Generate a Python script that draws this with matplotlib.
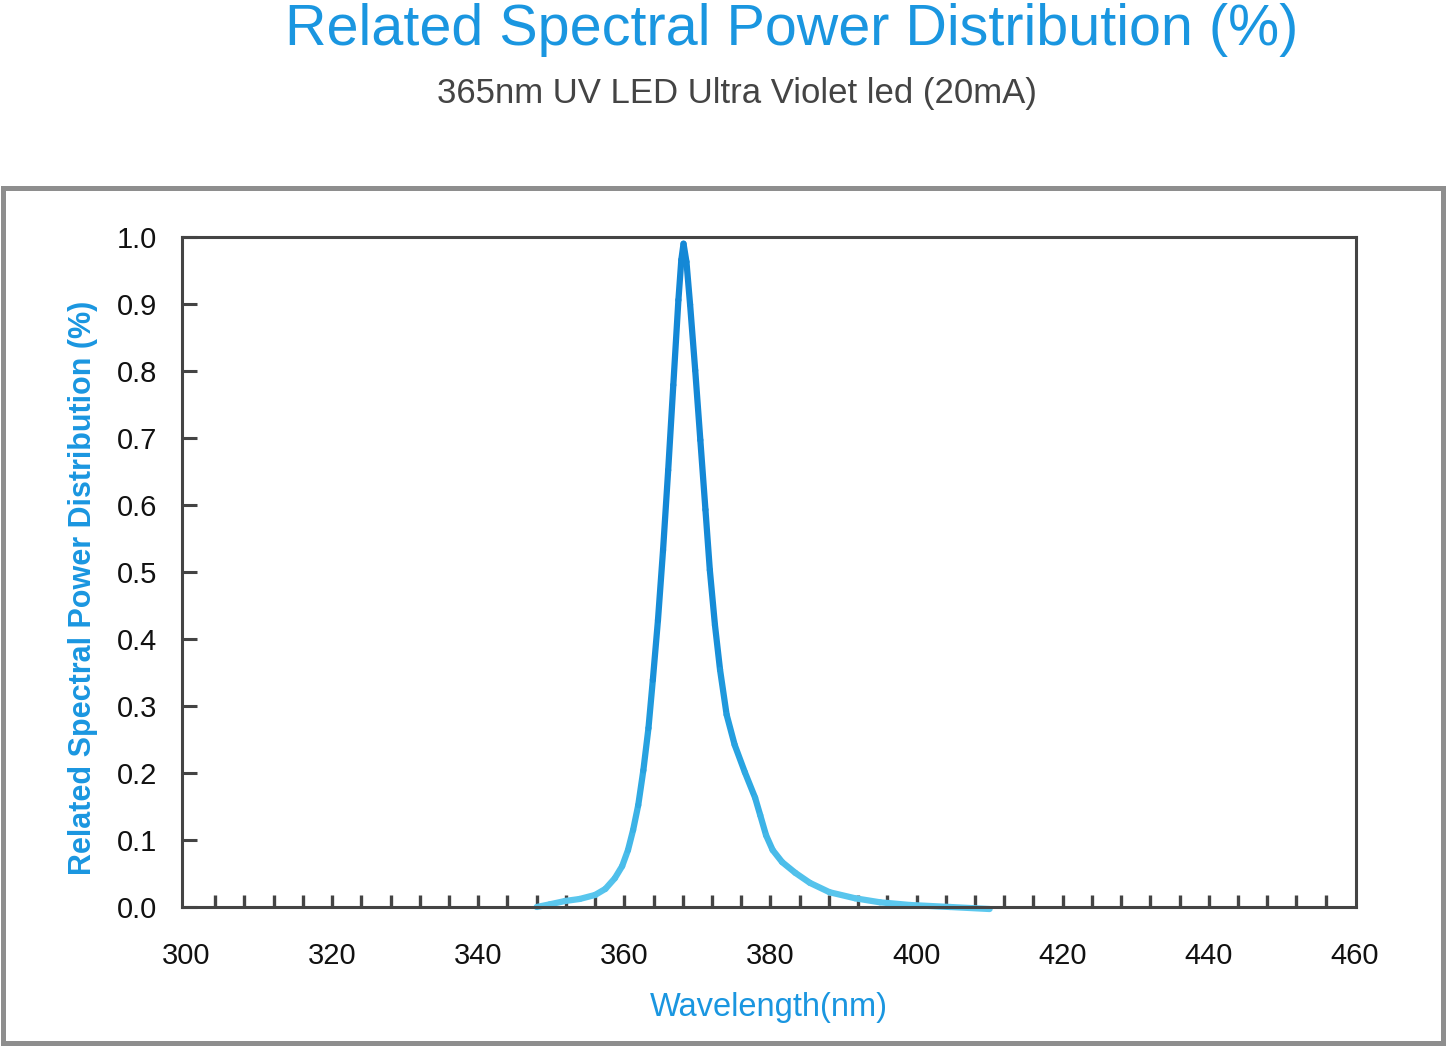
import numpy as np
import matplotlib
matplotlib.use("Agg")
import matplotlib.pyplot as plt
from matplotlib.collections import LineCollection
from matplotlib.colors import LinearSegmentedColormap
from matplotlib.patches import Rectangle
from matplotlib.ticker import FixedLocator

plt.rcParams['font.family'] = ['Liberation Sans', 'DejaVu Sans']

# Data
wavelength = [348.0, 349.8, 351.9, 353.9, 356.0, 357.4, 358.7, 359.7, 360.5, 361.2,
              361.9, 362.6, 363.3, 363.9, 364.6, 365.3, 366.0, 366.7, 367.4, 367.8,
              368.1, 368.5, 369.0, 369.7, 370.4, 371.1, 371.7, 372.4, 373.1, 374.0,
              375.1, 376.5, 377.9, 378.6, 379.4, 380.3, 381.6, 383.4, 385.4, 388.1,
              391.6, 395.0, 399.1, 404.6, 410.0]
power = [0.000, 0.004, 0.009, 0.012, 0.018, 0.027, 0.043, 0.061, 0.085, 0.115,
         0.152, 0.204, 0.267, 0.339, 0.428, 0.533, 0.652, 0.779, 0.906, 0.966,
         0.990, 0.963, 0.899, 0.801, 0.697, 0.593, 0.503, 0.421, 0.354, 0.287,
         0.242, 0.201, 0.163, 0.137, 0.107, 0.085, 0.067, 0.051, 0.036, 0.022,
         0.013, 0.007, 0.003, 0.000, -0.003]
x_tick_labels = [300, 320, 340, 360, 380, 400, 420, 440, 460]
x_minor_ticks = list(range(304, 457, 4))
y_ticks = [0.0, 0.1, 0.2, 0.3, 0.4, 0.5, 0.6, 0.7, 0.8, 0.9, 1.0]

W, H = 1447, 1048
fig = plt.figure(figsize=(W / 100, H / 100), dpi=100)
fig.patch.set_facecolor('white')

# outer frame
fig.patches.append(Rectangle((3 / W, 1 - 1043 / H), 1440 / W, 855 / H,
                             transform=fig.transFigure, fill=False,
                             edgecolor='#8e8e8e', linewidth=3.6))

ax = fig.add_axes([182 / W, 1 - 907 / H, (1356 - 182) / W, (907 - 237) / H])
ax.set_xlim(299.45, 460.15)
ax.set_ylim(0, 1.0)

for s in ax.spines.values():
    s.set_color('#444444')
    s.set_linewidth(2.2)

# line with vertical colour gradient
x = np.array(wavelength)
y = np.array(power)
pts = np.column_stack([x, y]).reshape(-1, 1, 2)
segs = np.concatenate([pts[:-1], pts[1:]], axis=1)
cmap = LinearSegmentedColormap.from_list('uv', ['#5cc8ee', '#2aa6e2', '#178ed8', '#1488d6'])
lc = LineCollection(segs, cmap=cmap, linewidths=4.5, capstyle='round', joinstyle='round')
lc.set_array((y[:-1] + y[1:]) / 2)
lc.set_clim(0, 0.6)
lc.set_clip_on(False)
ax.add_collection(lc)

ax.set_xticks(x_tick_labels)
ax.set_xticklabels([str(v) for v in x_tick_labels])
ax.xaxis.set_minor_locator(FixedLocator(x_minor_ticks))
ax.xaxis.remove_overlapping_locs = False
ax.tick_params(axis='x', which='major', length=0, pad=25, labelsize=21, labelcolor='#111111')
ax.tick_params(axis='x', which='minor', direction='in', length=9, width=2.4, color='#444444')

ax.set_yticks(y_ticks)
ax.set_yticklabels([f"{v:.1f}" for v in y_ticks])
ax.tick_params(axis='y', which='major', direction='in', length=11, width=2.2,
               color='#444444', pad=18, labelsize=21, labelcolor='#111111')

ax.set_xlabel('Wavelength(nm)', fontsize=23.5, color='#1a96e0', labelpad=16)
ax.set_ylabel('Related Spectral Power Distribution (%)', fontsize=22, color='#1a96e0',
              fontweight='bold')
ax.yaxis.set_label_coords(-0.0715, 0.476)

fig.text(792 / W, 1 - 30 / H, 'Related Spectral Power Distribution (%)', fontsize=41.4,
         color='#1a96e0', ha='center', va='center')
fig.text(737 / W, 1 - 93 / H, '365nm UV LED Ultra Violet led (20mA)', fontsize=25,
         color='#444444', ha='center', va='center')

fig.savefig('out.png', dpi=100, facecolor='white')
